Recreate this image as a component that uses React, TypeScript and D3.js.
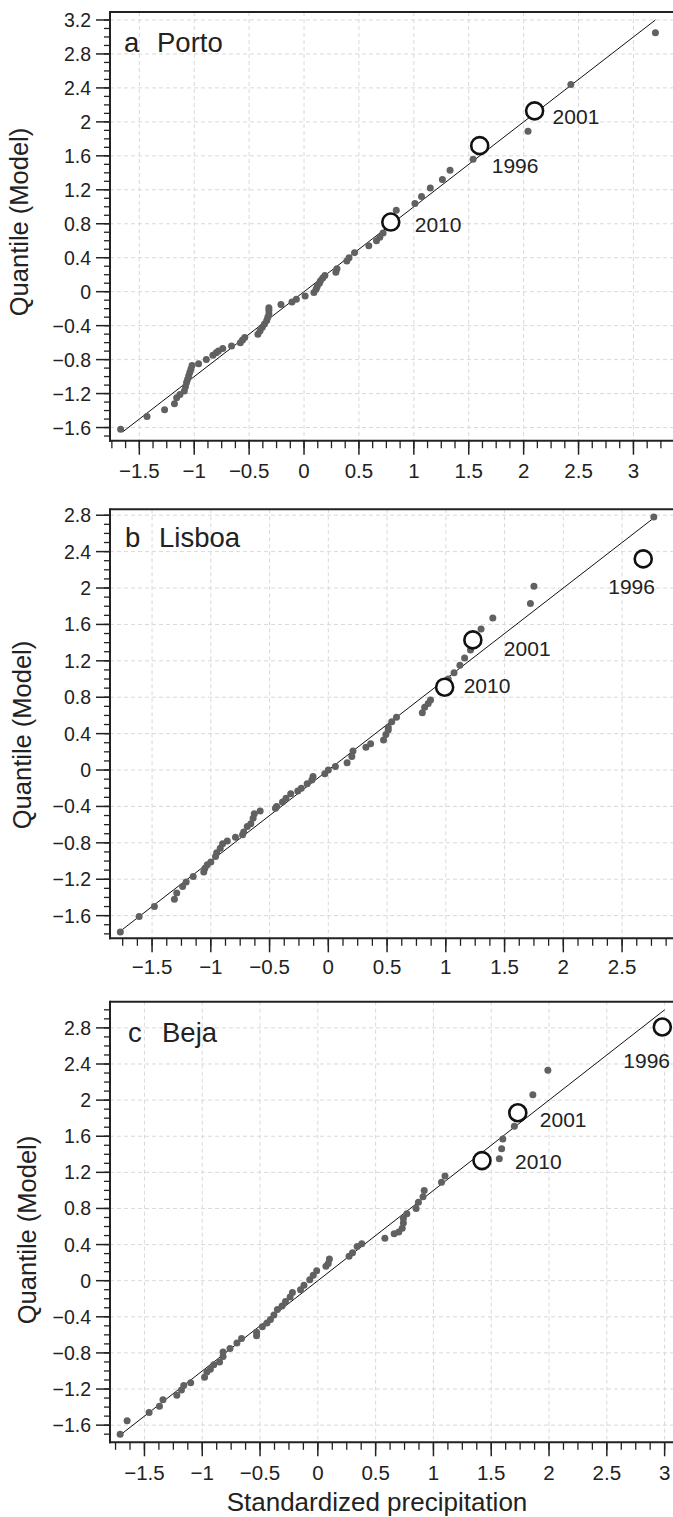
import React from "react";
import * as d3 from "d3";

// ---------- DATA ----------
const portoX = [-1.67,-1.43,-1.27,-1.18,-1.16,-1.13,-1.09,-1.08,-1.07,-1.06,-1.05,-1.04,-1.03,-1.02,-0.96,-0.89,-0.83,-0.80,-0.78,-0.74,-0.66,-0.58,-0.56,-0.54,-0.42,-0.40,-0.38,-0.36,-0.34,-0.33,-0.32,-0.32,-0.32,-0.21,-0.11,-0.07,0.01,0.09,0.11,0.12,0.14,0.15,0.17,0.19,0.29,0.30,0.39,0.41,0.46,0.59,0.66,0.69,0.72,0.84,1.01,1.07,1.15,1.26,1.33,1.54,2.04,2.43,3.20];
const portoY = [-1.62,-1.47,-1.39,-1.32,-1.25,-1.21,-1.17,-1.12,-1.07,-1.03,-0.99,-0.95,-0.91,-0.87,-0.85,-0.80,-0.75,-0.72,-0.70,-0.67,-0.64,-0.60,-0.57,-0.54,-0.50,-0.46,-0.42,-0.38,-0.34,-0.30,-0.26,-0.22,-0.19,-0.15,-0.12,-0.09,-0.05,-0.01,0.03,0.06,0.10,0.13,0.16,0.19,0.23,0.27,0.36,0.40,0.46,0.54,0.60,0.64,0.69,0.96,1.04,1.12,1.22,1.32,1.43,1.56,1.89,2.44,3.05];
const portoYears = ["2010","1996","2001"];
const portoHX = [0.79,1.60,2.10];
const portoHY = [0.82,1.72,2.13];

const lisboaX = [-1.77,-1.61,-1.48,-1.31,-1.29,-1.24,-1.21,-1.15,-1.06,-1.05,-1.03,-1.00,-0.96,-0.95,-0.92,-0.90,-0.86,-0.79,-0.73,-0.72,-0.69,-0.66,-0.64,-0.63,-0.58,-0.45,-0.44,-0.39,-0.36,-0.32,-0.26,-0.23,-0.18,-0.14,-0.13,-0.03,0.00,0.06,0.16,0.20,0.21,0.32,0.36,0.47,0.49,0.51,0.51,0.54,0.58,0.80,0.82,0.85,0.87,1.02,1.07,1.12,1.16,1.21,1.30,1.40,1.72,1.75,2.77];
const lisboaY = [-1.78,-1.61,-1.50,-1.42,-1.35,-1.28,-1.23,-1.17,-1.12,-1.08,-1.04,-1.01,-0.95,-0.91,-0.86,-0.81,-0.78,-0.74,-0.71,-0.68,-0.62,-0.59,-0.53,-0.48,-0.45,-0.42,-0.40,-0.35,-0.31,-0.26,-0.23,-0.20,-0.15,-0.11,-0.07,-0.04,0.00,0.04,0.08,0.15,0.21,0.25,0.29,0.33,0.39,0.44,0.47,0.53,0.58,0.63,0.69,0.73,0.77,1.00,1.07,1.15,1.23,1.32,1.55,1.67,1.83,2.02,2.78];
const lisboaYears = ["2010","2001","1996"];
const lisboaHX = [0.99,1.23,2.68];
const lisboaHY = [0.91,1.43,2.32];

const bejaX = [-1.71,-1.65,-1.46,-1.37,-1.34,-1.22,-1.18,-1.16,-1.10,-0.98,-0.96,-0.93,-0.90,-0.85,-0.82,-0.82,-0.76,-0.70,-0.66,-0.53,-0.53,-0.48,-0.44,-0.41,-0.38,-0.35,-0.31,-0.28,-0.24,-0.22,-0.15,-0.12,-0.07,-0.04,-0.01,0.07,0.09,0.10,0.27,0.30,0.34,0.38,0.58,0.66,0.70,0.73,0.74,0.74,0.77,0.85,0.87,0.91,0.92,1.07,1.10,1.57,1.59,1.60,1.70,1.86,1.99];
const bejaY = [-1.70,-1.55,-1.46,-1.39,-1.32,-1.27,-1.21,-1.16,-1.13,-1.07,-1.01,-0.98,-0.93,-0.90,-0.84,-0.79,-0.75,-0.69,-0.64,-0.61,-0.57,-0.51,-0.47,-0.43,-0.38,-0.32,-0.28,-0.23,-0.18,-0.13,-0.10,-0.05,0.01,0.06,0.11,0.16,0.19,0.24,0.27,0.31,0.38,0.41,0.47,0.52,0.54,0.58,0.64,0.69,0.74,0.80,0.87,0.93,1.00,1.09,1.16,1.35,1.46,1.57,1.71,2.06,2.33];
const bejaYears = ["2010","2001","1996"];
const bejaHX = [1.42,1.73,2.98];
const bejaHY = [1.33,1.86,2.81];

const xTicksA = [-1.5,-1,-0.5,0,0.5,1,1.5,2,2.5,3];
const xTicksB = [-1.5,-1,-0.5,0,0.5,1,1.5,2,2.5];
const xTicksC = [-1.5,-1,-0.5,0,0.5,1,1.5,2,2.5,3];
const yTicksA = [-1.6,-1.2,-0.8,-0.4,0,0.4,0.8,1.2,1.6,2,2.4,2.8,3.2];
const yTicksB = [-1.6,-1.2,-0.8,-0.4,0,0.4,0.8,1.2,1.6,2,2.4,2.8];
const yTicksC = [-1.6,-1.2,-0.8,-0.4,0,0.4,0.8,1.2,1.6,2,2.4,2.8];
const refLineA = [-1.65, 3.2];
const refLineB = [-1.77, 2.77];
const refLineC = [-1.7, 3.0];

const yTitle = "Quantile (Model)";
const xTitle = "Standardized precipitation";

// ---------- LAYOUT ----------
const FONT = "'Liberation Sans', Arial, Helvetica, sans-serif";
const LEFT = 110;
const RIGHT = 680;

const panels = [
  {
    letter: "a", name: "Porto", xs: portoX, ys: portoY, years: portoYears, hx: portoHX, hy: portoHY,
    xTicks: xTicksA, yTicks: yTicksA, ref: refLineA,
    top: 12, bottom: 440.7, xDomain: [-1.767, 3.424], yDomain: [-1.755, 3.294],
    xMinor: [-1.75, 3.4], yMinor: [-1.7, 3.2],
    nameX: 124, nameBase: 52, nameOff: 33,
    labOff: [[24, 10], [12, 27], [18, 13]],
    yTitleX: 28, yTitleY: 222, tickBase: 37,
  },
  {
    letter: "b", name: "Lisboa", xs: lisboaX, ys: lisboaY, years: lisboaYears, hx: lisboaHX, hy: lisboaHY,
    xTicks: xTicksB, yTicks: yTicksB, ref: refLineB,
    top: 509.3, bottom: 938.3, xDomain: [-1.858, 2.993], yDomain: [-1.849, 2.865],
    xMinor: [-1.75, 2.9], yMinor: [-1.8, 2.8],
    nameX: 125, nameBase: 547, nameOff: 34,
    labOff: [[19, 6], [31, 16], [-35, 35]],
    yTitleX: 31, yTitleY: 735, tickBase: 36,
  },
  {
    letter: "c", name: "Beja", xs: bejaX, ys: bejaY, years: bejaYears, hx: bejaHX, hy: bejaHY,
    xTicks: xTicksC, yTicks: yTicksC, ref: refLineC,
    top: 1001.7, bottom: 1442.3, xDomain: [-1.798, 3.133], yDomain: [-1.79, 3.09],
    xMinor: [-1.75, 3.1], yMinor: [-1.7, 3.0],
    nameX: 128, nameBase: 1042, nameOff: 34,
    labOff: [[33, 8], [22, 14], [-39, 41]],
    yTitleX: 36, yTitleY: 1230, tickBase: 38,
  },
];

const fmt = (v: number) => {
  const r = Math.round(v * 10) / 10;
  if (r === 0) return "0";
  return (r < 0 ? "\u2212" : "") + String(Math.abs(r));
};

function Panel({ p }: { p: any }) {
  const x = d3.scaleLinear().domain(p.xDomain).range([LEFT, RIGHT]);
  const y = d3.scaleLinear().domain(p.yDomain).range([p.bottom, p.top]);
  const xMinor = d3.range(Math.round(p.xMinor[0] * 8), Math.round(p.xMinor[1] * 8) + 1).map((k) => k / 8);
  const yMinor = d3.range(Math.round(p.yMinor[0] * 10), Math.round(p.yMinor[1] * 10) + 1).map((k) => k / 10);
  const pts = p.xs.map((v: number, i: number) => [v, p.ys[i]]);
  const line = d3.line<number>().x((d) => x(d)).y((d) => y(d));
  return (
    <g>
      {p.xTicks.map((t: number) => (
        <line key={"gx" + t} x1={x(t)} x2={x(t)} y1={p.top} y2={p.bottom} stroke="#d9d9d9" strokeWidth={1} strokeDasharray="4,3" />
      ))}
      {p.yTicks.map((t: number) => (
        <line key={"gy" + t} x1={LEFT} x2={RIGHT} y1={y(t)} y2={y(t)} stroke="#d9d9d9" strokeWidth={1} strokeDasharray="4,3" />
      ))}
      <path d={line(p.ref) || ""} stroke="#111" strokeWidth={1} fill="none" />
      {pts.map((d: number[], i: number) => (
        <circle key={"p" + i} cx={x(d[0])} cy={y(d[1])} r={3.5} fill="#616161" />
      ))}
      {p.hx.map((v: number, i: number) => (
        <g key={"h" + i}>
          <circle cx={x(v)} cy={y(p.hy[i])} r={8.5} fill="#fff" stroke="#111" strokeWidth={2.6} />
          <text x={x(v) + p.labOff[i][0]} y={y(p.hy[i]) + p.labOff[i][1]} fontSize={21} fontFamily={FONT} fill="#222">
            {p.years[i]}
          </text>
        </g>
      ))}
      <line x1={LEFT} x2={RIGHT} y1={p.top} y2={p.top} stroke="#222" strokeWidth={2} />
      <line x1={LEFT} x2={LEFT} y1={p.top - 1} y2={p.bottom + 1} stroke="#222" strokeWidth={2} />
      <line x1={LEFT - 1} x2={RIGHT} y1={p.bottom} y2={p.bottom} stroke="#222" strokeWidth={2} />
      {yMinor.map((t: number) => (
        <line key={"ym" + t} x1={LEFT - 6} x2={LEFT} y1={y(t)} y2={y(t)} stroke="#222" strokeWidth={1.3} />
      ))}
      {p.yTicks.map((t: number) => (
        <g key={"yt" + t}>
          <line x1={LEFT - 14} x2={LEFT} y1={y(t)} y2={y(t)} stroke="#222" strokeWidth={1.5} />
          <text x={91} y={y(t)} dy="0.36em" textAnchor="end" fontSize={19.5} fontFamily={FONT} fill="#222">
            {fmt(t)}
          </text>
        </g>
      ))}
      {xMinor.map((t: number) => (
        <line key={"xm" + t} x1={x(t)} x2={x(t)} y1={p.bottom} y2={p.bottom + 7.5} stroke="#222" strokeWidth={1.3} />
      ))}
      {p.xTicks.map((t: number) => (
        <g key={"xt" + t}>
          <line x1={x(t)} x2={x(t)} y1={p.bottom} y2={p.bottom + 14} stroke="#222" strokeWidth={1.5} />
          <text x={x(t)} y={p.bottom + p.tickBase} textAnchor="middle" fontSize={20.5} fontFamily={FONT} fill="#222">
            {fmt(t)}
          </text>
        </g>
      ))}
      <text x={p.nameX} y={p.nameBase} fontSize={27.5} fontFamily={FONT} fill="#222">{p.letter}</text>
      <text x={p.nameX + p.nameOff} y={p.nameBase} fontSize={27.5} fontFamily={FONT} fill="#222">{p.name}</text>
      <text transform={`translate(${p.yTitleX},${p.yTitleY}) rotate(-90)`} textAnchor="middle" fontSize={25.5} fontFamily={FONT} fill="#222">
        {yTitle}
      </text>
    </g>
  );
}

export default function App() {
  return (
    <svg width={673} height={1517} style={{ position: "absolute", left: 0, top: 0, background: "#fff" }}>
      <rect x={0} y={0} width={673} height={1517} fill="#fff" />
      {panels.map((p) => (
        <Panel key={p.letter} p={p} />
      ))}
      <text x={377} y={1511} textAnchor="middle" fontSize={26} fontFamily={FONT} fill="#222">{xTitle}</text>
    </svg>
  );
}
